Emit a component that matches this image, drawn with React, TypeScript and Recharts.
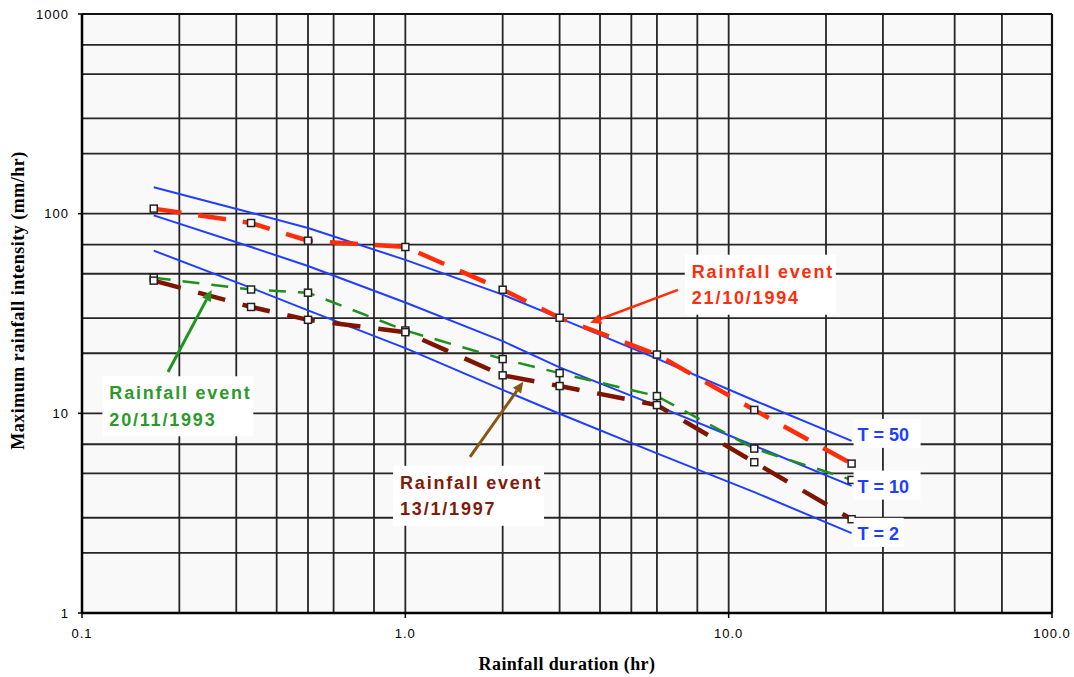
import React from "react";
import {
  CartesianGrid,
  Label,
  Line,
  LineChart,
  ReferenceDot,
  ReferenceLine,
  XAxis,
  YAxis,
} from "recharts";

// storm durations (hr)
const durations = [1 / 6, 1 / 3, 0.5, 1, 2, 3, 6, 12, 24];

// recorded events, max intensity (mm/hr)
const event1994 = [106, 89.8, 73.2, 68.1, 41.6, 30.1, 19.7, 10.4, 5.6];
const event1993 = [47.8, 41.7, 40.2, 26.0, 18.7, 15.9, 12.2, 6.66, 4.64];
const event1997 = [46.2, 34.1, 29.4, 25.5, 15.5, 13.7, 11.0, 5.69, 2.95];

// IDF curves for return periods
const idfT50 = [135.5, 101, 84.8, 58.7, 39.3, 30.0, 18.8, 11.6, 7.28];
const idfT10 = [98.1, 68.1, 54.7, 35.9, 23.0, 17.0, 10.9, 6.88, 4.33];
const idfT2 = [65.3, 42.5, 32.8, 21.2, 13.1, 9.95, 6.3, 4.03, 2.51];

const xTicks = [0.1, 1, 10, 100];
const yTicks = [1, 10, 100, 1000];
const xGrid = [
  0.1, 0.2, 0.3, 0.4, 0.5, 0.6, 0.7, 0.8, 0.9, 1, 2, 3, 4, 5, 6, 7, 8, 9, 10,
  20, 30, 40, 50, 60, 70, 80, 90, 100,
];
const yGrid = [
  1, 2, 3, 4, 5, 6, 7, 8, 9, 10, 20, 30, 40, 50, 60, 70, 80, 90, 100, 200, 300,
  400, 500, 600, 700, 800, 900, 1000,
];

const data = durations.map((d, i) => ({
  duration: d,
  e1994: event1994[i],
  e1993: event1993[i],
  e1997: event1997[i],
  t50: idfT50[i],
  t10: idfT10[i],
  t2: idfT2[i],
}));

const sans = "Arial, 'Liberation Sans', sans-serif";
const serif = "'Times New Roman', 'Liberation Serif', serif";
const BLUE = "#1f3fff";

const eventLabels = [
  { lines: ["Rainfall event", "21/10/1994"], color: "#ff2d0a", x: 7.69, y: 51.2 },
  { lines: ["Rainfall event", "20/11/1993"], color: "#2a9a2a", x: 0.1215, y: 12.6 },
  { lines: ["Rainfall event", "13/1/1997"], color: "#801a0a", x: 0.963, y: 4.49 },
];

const arrows = [
  { from: { x: 6.97, y: 41.5 }, to: { x: 3.73, y: 28.4 }, color: "#ff2d0a", w: 2.5 },
  { from: { x: 0.1845, y: 16.1 }, to: { x: 0.2518, y: 41.5 }, color: "#1f951f", w: 3 },
  { from: { x: 1.585, y: 6.06 }, to: { x: 2.317, y: 14.4 }, color: "#8a5514", w: 3 },
];

const tLabels = [
  { text: "T = 50", values: idfT50, dy: -6, w: 67 },
  { text: "T = 10", values: idfT10, dy: 0.7, w: 67 },
  { text: "T = 2", values: idfT2, dy: 0.7, w: 50 },
];

function squareDot(props: any) {
  const { cx, cy, index } = props;
  if (cx == null || cy == null) return <g key={index} />;
  return (
    <rect
      key={index}
      x={cx - 3.5}
      y={cy - 3.5}
      width={7}
      height={7}
      fill="#ffffff"
      stroke="#222222"
      strokeWidth={1.5}
    />
  );
}

function arrowShape(color: string, w: number) {
  return (props: any) => {
    const { x1, y1, x2, y2 } = props;
    const ang = Math.atan2(y2 - y1, x2 - x1);
    const len = 11;
    const half = 5;
    const bx = x2 - len * Math.cos(ang);
    const by = y2 - len * Math.sin(ang);
    const px = -Math.sin(ang) * half;
    const py = Math.cos(ang) * half;
    return (
      <g>
        <line x1={x1} y1={y1} x2={bx} y2={by} stroke={color} strokeWidth={w} />
        <polygon
          points={`${x2},${y2} ${bx + px},${by + py} ${bx - px},${by - py}`}
          fill={color}
        />
      </g>
    );
  };
}

export default function App() {
  return (
    <div style={{ position: "absolute", left: 0, top: 0, background: "#ffffff" }}>
      <LineChart
        width={1074}
        height={677}
        data={data}
        margin={{ top: 14, right: 22, bottom: 14, left: 22 }}
      >
        <CartesianGrid
          horizontalValues={yGrid}
          verticalValues={xGrid}
          stroke="#262626"
          strokeWidth={1.8}
          fill="#f9f9f9"
          fillOpacity={1}
        />
        <XAxis
          dataKey="duration"
          type="number"
          scale="log"
          domain={[0.1, 100]}
          ticks={xTicks}
          allowDataOverflow
          tickFormatter={(v: number) => v.toFixed(1)}
          height={50}
          tickSize={5}
          tickMargin={11}
          axisLine={{ stroke: "#000000", strokeWidth: 2.5 }}
          tickLine={{ stroke: "#000000", strokeWidth: 1.5 }}
          tick={{ fill: "#000000", fontSize: 13, fontFamily: sans, letterSpacing: 1 }}
        >
          <Label
            content={({ viewBox }: any) => {
              const vb = viewBox || {};
              return (
                <text
                  x={(vb.x ?? 0) + (vb.width ?? 0) / 2}
                  y={(vb.y ?? 0) + 51}
                  textAnchor="middle"
                  dominantBaseline="central"
                  fontFamily={serif}
                  fontWeight="bold"
                  fontSize={18}
                  letterSpacing={0.4}
                  fill="#000000"
                >
                  Rainfall duration (hr)
                </text>
              );
            }}
          />
        </XAxis>
        <YAxis
          type="number"
          scale="log"
          domain={[1, 1000]}
          ticks={yTicks}
          allowDataOverflow
          width={60}
          tickSize={4}
          tickMargin={9}
          axisLine={{ stroke: "#000000", strokeWidth: 2.5 }}
          tickLine={{ stroke: "#000000", strokeWidth: 1.5 }}
          tick={{ fill: "#000000", fontSize: 13, fontFamily: sans, letterSpacing: 1 }}
        >
          <Label
            content={({ viewBox }: any) => {
              const vb = viewBox || {};
              const cx = (vb.x ?? 0) - 4;
              const cy = (vb.y ?? 0) + (vb.height ?? 0) / 2 - 13;
              return (
                <text
                  x={cx}
                  y={cy}
                  transform={`rotate(-90 ${cx} ${cy})`}
                  textAnchor="middle"
                  dominantBaseline="central"
                  fontFamily={serif}
                  fontWeight="bold"
                  fontSize={18}
                  letterSpacing={0.5}
                  fill="#000000"
                >
                  Maximum rainfall intensity (mm/hr)
                </text>
              );
            }}
          />
        </YAxis>

        <ReferenceLine y={1000} stroke="#111111" strokeWidth={2.2} />
        <ReferenceLine x={100} stroke="#111111" strokeWidth={2.2} />

        <Line dataKey="t50" stroke={BLUE} strokeWidth={2} dot={false} isAnimationActive={false} />
        <Line dataKey="t10" stroke={BLUE} strokeWidth={2} dot={false} isAnimationActive={false} />
        <Line dataKey="t2" stroke={BLUE} strokeWidth={2} dot={false} isAnimationActive={false} />

        <Line
          dataKey="e1993"
          stroke="#1f8f1f"
          strokeWidth={2.5}
          strokeDasharray="17 12"
          dot={squareDot}
          isAnimationActive={false}
        />
        <Line
          dataKey="e1997"
          stroke="#7f1500"
          strokeWidth={4.5}
          strokeDasharray="28 18"
          dot={squareDot}
          isAnimationActive={false}
        />
        <Line
          dataKey="e1994"
          stroke="#ff2d0a"
          strokeWidth={4.5}
          strokeDasharray="28 17"
          dot={squareDot}
          isAnimationActive={false}
        />

        {tLabels.map((t) => (
          <ReferenceDot
            key={t.text}
            x={durations[durations.length - 1]}
            y={t.values[t.values.length - 1]}
            r={0}
            shape={(p: any) => (
              <g>
                <rect x={p.cx + 2} y={p.cy + t.dy - 16} width={t.w} height={29} fill="#ffffff" />
                <text
                  x={p.cx + 6}
                  y={p.cy + t.dy}
                  dominantBaseline="central"
                  fontFamily={sans}
                  fontWeight="bold"
                  fontSize={18}
                  fill={BLUE}
                >
                  {t.text}
                </text>
              </g>
            )}
          />
        ))}

        {eventLabels.map((l) => (
          <ReferenceDot
            key={l.lines[1]}
            x={l.x}
            y={l.y}
            r={0}
            shape={(p: any) => (
              <g>
                <rect x={p.cx - 7} y={p.cy - 17} width={151} height={60} fill="#ffffff" />
                {l.lines.map((s, i) => (
                  <text
                    key={s}
                    x={p.cx}
                    y={p.cy + i * 26.5}
                    dominantBaseline="central"
                    fontFamily={sans}
                    fontWeight="bold"
                    fontSize={18}
                    letterSpacing={1.8}
                    fill={l.color}
                  >
                    {s}
                  </text>
                ))}
              </g>
            )}
          />
        ))}

        {arrows.map((a, i) => (
          <ReferenceLine
            key={i}
            segment={[a.from, a.to]}
            shape={arrowShape(a.color, a.w)}
          />
        ))}
      </LineChart>
    </div>
  );
}
